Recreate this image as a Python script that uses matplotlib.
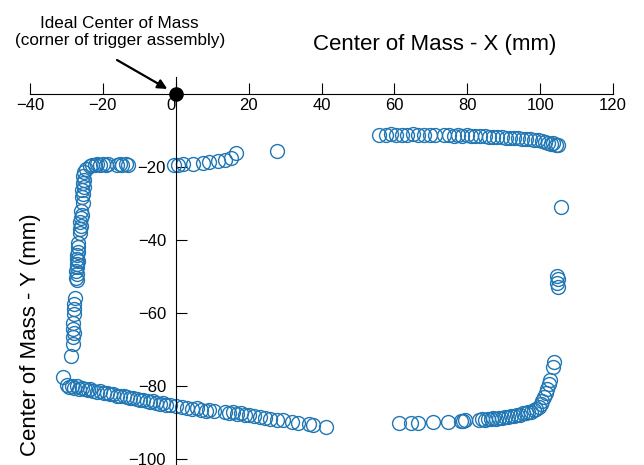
import matplotlib
matplotlib.use('Agg')
import matplotlib.pyplot as plt
import numpy as np

plt.rcParams['font.family'] = ['Liberation Sans', 'DejaVu Sans']

# left column + top-left corner
left_x = [-24.5, -23.6, -23.0, -22.2, -21.5, -20.8, -20.0, -19.2, -18.5, -16.2, -15.4, -14.8, -13.6, -13.0,
          -25.3, -25.4, -25.2, -25.5, -25.3, -25.6, -25.4, -25.7, -25.5, -26.0, -25.8, -26.1, -26.2, -26.0,
          -26.4, -26.3, -26.7, -26.9, -26.8, -27.0, -27.1, -26.9, -27.2, -27.1, -27.3, -27.2, -27.4, -27.2,
          -27.6, -27.9, -28.0, -27.8, -28.1, -28.2, -28.0, -28.3, -28.2, -28.8]
left_y = [-20.5, -19.8, -19.5, -19.4, -19.3, -19.5, -19.3, -19.4, -19.3, -19.4, -19.2, -19.5, -19.3, -19.6,
          -21.5, -22.6, -23.5, -24.5, -25.5, -26.3, -27.4, -28.3, -29.8, -32.0, -33.2, -34.0, -35.0, -36.2,
          -37.0, -38.0, -40.8, -42.0, -43.4, -44.0, -45.1, -45.8, -46.6, -47.5, -48.6, -49.4, -50.4, -51.0,
          -56.0, -57.5, -59.0, -60.3, -62.8, -64.3, -65.4, -66.6, -68.5, -71.8]

# top row right of the origin
mid_x = [-0.6, 0.5, 1.9, 4.7, 7.5, 9.0, 11.6, 13.4, 15.3, 16.6, 27.7]
mid_y = [-19.6, -19.4, -19.3, -19.1, -19.0, -18.8, -18.5, -18.2, -17.6, -16.2, -15.7]

# bottom-left diagonal
bl_x = [-30.9, -29.8, -29.2, -28.6, -27.9, -27.2, -26.5, -25.8, -25.0, -24.2, -23.4, -22.6, -21.7, -20.9,
        -19.8, -18.9, -18.0, -17.2, -16.1, -15.2, -14.3, -13.4, -12.5, -11.6, -10.7, -9.8, -8.9, -8.0,
        -7.1, -6.2, -5.3, -4.4, -3.5, -2.6, -1.5, 0.0, 1.8, 3.2, 4.5, 5.8, 7.0, 8.3, 9.1, 10.4, 13.5,
        14.6, 15.7, 16.8, 17.9, 19.0, 20.2, 21.5, 23.0, 24.6, 26.0, 27.7, 29.5, 32.0, 33.5, 36.5, 37.8, 41.2]
bl_y = [-77.4, -79.6, -80.2, -79.9, -80.4, -80.1, -80.7, -80.5, -80.9, -81.0, -80.8, -81.3, -81.5, -81.4,
        -81.9, -82.0, -82.2, -82.1, -82.6, -82.8, -82.7, -83.1, -83.3, -83.2, -83.6, -83.8, -83.7, -84.1,
        -84.3, -84.2, -84.6, -84.8, -84.7, -85.1, -85.3, -85.4, -85.7, -85.9, -86.2, -86.1, -86.5, -86.7,
        -86.6, -86.9, -87.0, -87.3, -87.2, -87.6, -87.5, -87.8, -88.0, -88.3, -88.5, -88.8, -89.0, -89.3,
        -89.4, -89.8, -90.0, -90.3, -90.6, -91.1]

# top-right row
tr_x = [55.9, 57.6, 59.2, 60.5, 62.0, 63.4, 65.0, 66.5, 68.0, 69.8, 71.2, 73.5, 75.0, 76.4, 77.4, 78.6,
        79.8, 81.0, 82.2, 83.5, 84.8, 86.0, 87.1, 88.3, 89.5, 90.6, 91.7, 92.8, 93.9, 95.0, 96.1, 97.2,
        98.3, 99.4, 100.4, 101.3, 102.2, 102.9, 103.6, 104.3, 104.9]
tr_y = [-11.2, -11.3, -11.1, -11.4, -11.2, -11.3, -11.1, -11.3, -11.2, -11.3, -11.2, -11.3, -11.2, -11.5,
        -11.4, -11.5, -11.4, -11.6, -11.5, -11.6, -11.5, -11.7, -11.8, -11.7, -11.9, -12.0, -12.1, -12.0,
        -12.2, -12.3, -12.4, -12.3, -12.6, -12.7, -12.8, -13.2, -13.4, -13.8, -13.6, -14.0, -14.1]

# right side
r_x = [105.7, 104.7, 104.9, 104.6, 104.8]
r_y = [-31.0, -49.8, -50.6, -51.8, -53.0]

# bottom-right row
br_x = [61.4, 64.6, 66.6, 70.5, 74.6, 78.2, 78.8, 79.5, 83.2, 84.0, 84.8, 85.6, 86.4, 87.2, 88.0, 88.8,
        89.6, 90.4, 91.2, 92.0, 92.8, 93.6, 94.4, 95.2, 96.0, 96.8, 97.5, 98.2, 98.9, 99.6, 100.2, 100.6,
        101.0, 101.5, 101.9, 102.4, 102.8, 103.4, 103.8]
br_y = [-90.2, -90.2, -90.1, -89.9, -89.8, -89.5, -89.6, -89.4, -89.4, -89.0, -89.2, -88.9, -89.0, -88.8,
        -88.9, -88.6, -88.7, -88.4, -88.5, -88.2, -88.1, -87.9, -87.8, -87.5, -87.4, -87.0, -87.1, -86.6,
        -86.2, -85.8, -85.0, -84.2, -83.1, -82.0, -80.8, -79.3, -78.3, -74.7, -73.3]

xs = left_x + mid_x + bl_x + tr_x + r_x + br_x
ys = left_y + mid_y + bl_y + tr_y + r_y + br_y

fig = plt.figure(figsize=(6.44, 4.65), dpi=100)
ax = fig.add_axes([30/644, 0, 583/644, (465-77)/465])

ax.plot(xs, ys, 'o', mfc='none', mec='#2077b4', ms=10, mew=1.0, clip_on=False)
ax.plot([0], [0], 'o', color='black', ms=9.5, clip_on=False, zorder=5)

ax.set_xlim(-40, 120)
ax.set_ylim(-101.6, 4.6)

for s in ['top', 'right']:
    ax.spines[s].set_visible(False)
ax.spines['bottom'].set_position(('data', 0))
ax.spines['left'].set_position(('data', 0))
ax.spines['bottom'].set_bounds(-40, 120)

ax.set_xticks(np.arange(-40, 121, 20))
ax.set_yticks([-20, -40, -60, -80, -100])
ax.tick_params(axis='x', direction='in', length=8, width=0.8, pad=3, labelsize=12)
ax.tick_params(axis='y', direction='in', length=8, width=0.8, pad=7, labelsize=12)
# the "0" sits just left of the y axis line
ax.get_xticklabels()[2].set_horizontalalignment('right')

fig.text(0.675, 0.905, 'Center of Mass - X (mm)', fontsize=16, ha='center', va='center')
fig.text(0.048, 0.28, 'Center of Mass - Y (mm)', fontsize=16, ha='center', va='center', rotation=90)

fig.text(0.186, 0.931, 'Ideal Center of Mass\n(corner of trigger assembly)', fontsize=12.3,
         ha='center', va='center', linespacing=1.2)
ax.annotate('', xy=(0, 0), xytext=(117/644, 1 - 60/465), textcoords='figure fraction',
            arrowprops=dict(arrowstyle='-|>', color='black', lw=1.6, mutation_scale=14, shrinkA=0, shrinkB=7))

fig.savefig('out.png', dpi=100)
